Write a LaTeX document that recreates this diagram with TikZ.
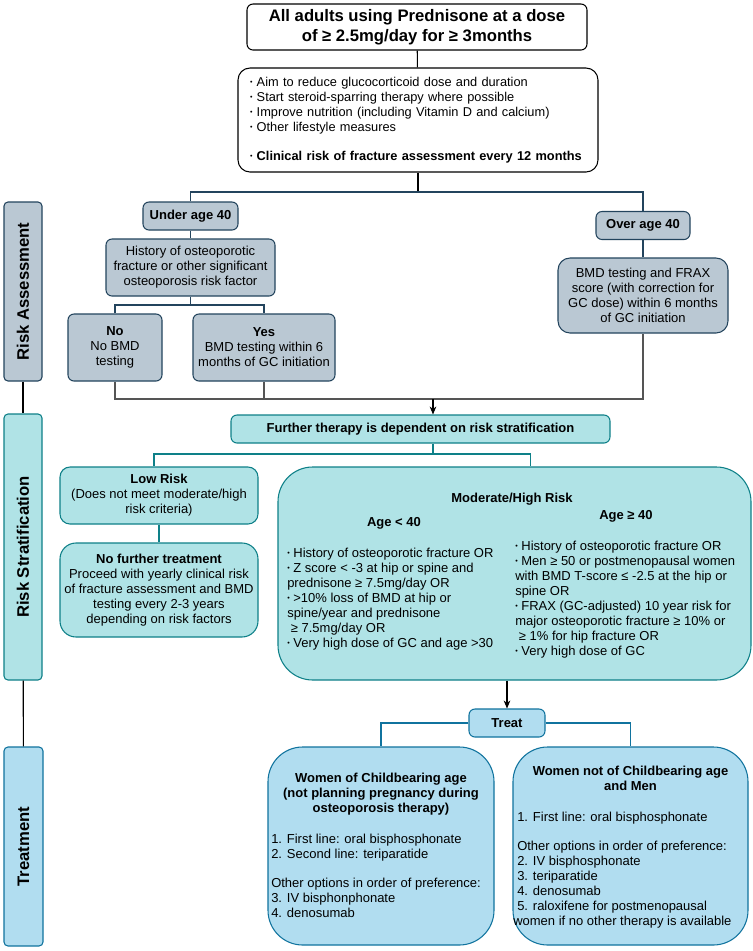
\documentclass[tikz,border=0pt]{standalone}
\usepackage{fontspec}
\setmainfont{Liberation Sans}
\usepackage{graphicx}
\usepackage{tikz}
\usetikzlibrary{arrows.meta,positioning}

\definecolor{gbfill}{HTML}{BAC8D3}
\definecolor{gbline}{HTML}{23445D}
\definecolor{tlfill}{HTML}{B0E3E6}
\definecolor{tlline}{HTML}{0E8088}
\definecolor{blfill}{HTML}{B1DDF0}
\definecolor{blline}{HTML}{10739E}
\definecolor{mergeline}{HTML}{555555}

\newcommand{\dotb}{\raisebox{0.25ex}{\scalebox{0.55}{\textbullet}}\ }

\begin{document}
\begin{tikzpicture}[x=0.75pt, y=-0.75pt,
        txt/.style={font=\fontsize{9.75pt}{11.25pt}\selectfont},
        boldtxt/.style={font=\fontsize{9.75pt}{11.25pt}\selectfont\bfseries},
        plainbox/.style={draw=black, fill=white, rounded corners=4.5pt, line width=0.8pt, align=center, inner sep=2pt},
        greybox/.style={txt, draw=gbline, fill=gbfill, rounded corners=4.5pt, line width=0.8pt, align=center, inner sep=2pt},
        tealbox/.style={txt, draw=tlline, fill=tlfill, rounded corners=6pt, line width=0.8pt, align=center, inner sep=2pt},
        bluebox/.style={txt, draw=blline, fill=blfill, rounded corners=4.5pt, line width=0.8pt, align=center, inner sep=2pt},
        sidebox/.style={rotate=90, font=\fontsize{12.5pt}{15pt}\selectfont\bfseries, rounded corners=3pt, line width=0.8pt, inner sep=0pt},
        boxtext/.style={txt, align=left, inner sep=0pt},
        arrow/.style={-{Stealth[length=6pt,width=5pt]}, line width=0.8pt},
        link/.style={line width=0.8pt}
    ]
        \fill[white] (0,0) rectangle (753,951);
        \useasboundingbox (0,0) rectangle (753,951);

        \node[plainbox, font=\fontsize{12.5pt}{15pt}\selectfont\bfseries, minimum width=255pt, minimum height=34.5pt] (top) at (417,27) {All adults using Prednisone at a dose\\of ≥ 2.5mg/day for ≥ 3months};
        \node[plainbox, font=\fontsize{9.6pt}{11.25pt}\selectfont, align=left, text width=252pt, inner xsep=9pt, minimum height=78pt, rounded corners=9pt] (aims) at (418,120) {\dotb Aim to reduce glucocorticoid dose and duration\\
            \dotb Start steroid-sparring therapy where possible\\
            \dotb Improve nutrition (including Vitamin D and calcium)\\
            \dotb Other lifestyle measures\\[10.5pt]
            \dotb \textbf{Clinical risk of fracture assessment every 12 months}};

        \node[sidebox, draw=gbline, fill=gbfill, minimum width=134.25pt, minimum height=28.5pt] (sideRA) at (23,291.5) {Risk Assessment};
        \node[sidebox, draw=tlline, fill=tlfill, minimum width=199.5pt, minimum height=28.5pt] (sideRS) at (23,547) {Risk Stratification};
        \node[sidebox, draw=blline, fill=blfill, minimum width=149.25pt, minimum height=29.25pt] (sideT) at (23.5,846.5) {Treatment};

        \node[greybox, boldtxt, minimum width=71.25pt, minimum height=21pt] (under) at (190.5,216) {Under age 40};
        \node[greybox, minimum width=126.75pt, minimum height=42.75pt] (hist) at (190.5,267.5) {History of osteoporotic\\fracture or other significant\\osteoporosis risk factor};
        \node[greybox, minimum width=70.5pt, minimum height=50.25pt] (no) at (115,347.5) {\textbf{No}\\No BMD\\testing};
        \node[greybox, minimum width=106.5pt, minimum height=50.25pt] (yes) at (264,347.5) {\textbf{Yes}\\BMD testing within 6\\months of GC initiation};
        \node[greybox, boldtxt, minimum width=70.5pt, minimum height=21pt] (over) at (643,225.5) {Over age 40};
        \node[greybox, minimum width=127.5pt, minimum height=56.25pt, rounded corners=9pt] (bmd) at (643,295.5) {BMD testing and FRAX\\score (with correction for\\GC dose) within 6 months\\of GC initiation};

        \node[tealbox, boldtxt, minimum width=284.25pt, minimum height=21pt, rounded corners=4.5pt] (further) at (420.5,429) {Further therapy is dependent on risk stratification};
        \node[tealbox, minimum width=148.5pt, minimum height=42.75pt, rounded corners=7.5pt] (low) at (159,495.5) {\textbf{Low Risk}\\(Does not meet moderate/high\\risk criteria)};
        \node[tealbox, minimum width=148.5pt, minimum height=70.5pt, rounded corners=12pt] (nofurther) at (159,590) {\textbf{No further treatment}\\Proceed with yearly clinical risk\\of fracture assessment and BMD\\testing every 2-3 years\\depending on risk factors};
        \node[tealbox, minimum width=354.75pt, minimum height=159.75pt, rounded corners=26pt] (mod) at (514.5,573.5) {};
        \node[boldtxt, inner sep=0pt] (modtitle) at (512,499) {Moderate/High Risk};
        \node[boldtxt, inner sep=0pt] (ageless) at (394,523) {Age < 40};
        \node[boldtxt, inner sep=0pt] (agemore) at (626,516) {Age ≥ 40};
        \node[boxtext, anchor=north west] (modleft) at (287,548) {\dotb History of osteoporotic fracture OR\\
            \dotb Z score < -3 at hip or spine and\\
            prednisone ≥ 7.5mg/day OR\\
            \dotb >10\% loss of BMD at hip or\\
            spine/year and prednisone\\
            \ ≥ 7.5mg/day OR\\
            \dotb Very high dose of GC and age >30};
        \node[boxtext, anchor=north west] (modright) at (515,541) {\dotb History of osteoporotic fracture OR\\
            \dotb Men ≥ 50 or postmenopausal women\\
            with BMD T-score ≤ -2.5 at the hip or\\
            spine OR\\
            \dotb FRAX (GC-adjusted) 10 year risk for\\
            major osteoporotic fracture ≥ 10\% or\\
            \ ≥ 1\% for hip fracture OR\\
            \dotb Very high dose of GC};

        \node[bluebox, boldtxt, minimum width=57pt, minimum height=21pt] (treat) at (507,723) {Treat};
        \node[bluebox, minimum width=169.5pt, minimum height=148.5pt, rounded corners=26pt] (wcb) at (381,846) {};
        \node[bluebox, minimum width=176.25pt, minimum height=148.5pt, rounded corners=26pt] (wnot) at (630.5,846) {};
        \node[boldtxt, align=center, inner sep=0pt] (wcbtitle) at (381,794) {Women of Childbearing age\\(not planning pregnancy during\\osteoporosis therapy)};
        \node[boxtext, anchor=north west] (wcblist) at (271,834) {1. First line: oral bisphosphonate\\
            2. Second line: teriparatide\\[10.5pt]
            Other options in order of preference:\\
            3. IV bisphonphonate\\
            4. denosumab};
        \node[boldtxt, align=center, inner sep=0pt] (wnottitle) at (630.5,778.5) {Women not of Childbearing age\\and Men};
        \node[boxtext, anchor=north west] (wnotlist) at (517,812) {1. First line: oral bisphosphonate\\[10.5pt]
            Other options in order of preference:\\
            2. IV bisphosphonate\\
            3. teriparatide\\
            4. denosumab\\
            5. raloxifene for postmenopausal\\
            \hspace*{-3pt}women if no other therapy is available};

        \coordinate (asplit) at (420,192);
        \coordinate (hsplit) at (190.5,305);
        \coordinate (merge) at (433,399);
        \coordinate (fsplit) at (433,454);

        \draw[link] (top) -- (aims);
        \draw[link] (aims.south) -- (aims.south |- asplit);
        \draw[link, gbline] (under.north) |- (asplit) -| (over.north);
        \draw[link, gbline] (under) -- (hist);
        \draw[link, gbline] (hist.south) -- (hsplit);
        \draw[link, gbline] (no.north) |- (hsplit) -| (yes.north);
        \draw[link, gbline] (over) -- (bmd);
        \draw[link, mergeline] (no.south) |- (merge) -| (bmd.south);
        \draw[link, mergeline] (yes.south) -- (yes.south |- merge);
        \draw[arrow] (merge) -- (merge |- further.north);
        \draw[link, tlline] (further.south -| fsplit) -- (fsplit);
        \draw[link, tlline] ([xshift=-3.75pt]low.north) |- (fsplit) -| ([xshift=12pt]mod.north);
        \draw[link, tlline] (low) -- (nofurther);
        \draw[arrow] (mod.south -| treat.north) -- (treat.north);
        \draw[link, blline] (treat.west) -| (wcb.north);
        \draw[link, blline] (treat.east) -| (wnot.north);
        \draw[link] (sideRA) -- (sideRS);
        \draw[link] (sideRS) -- (sideT);
    \end{tikzpicture}
\end{document}
